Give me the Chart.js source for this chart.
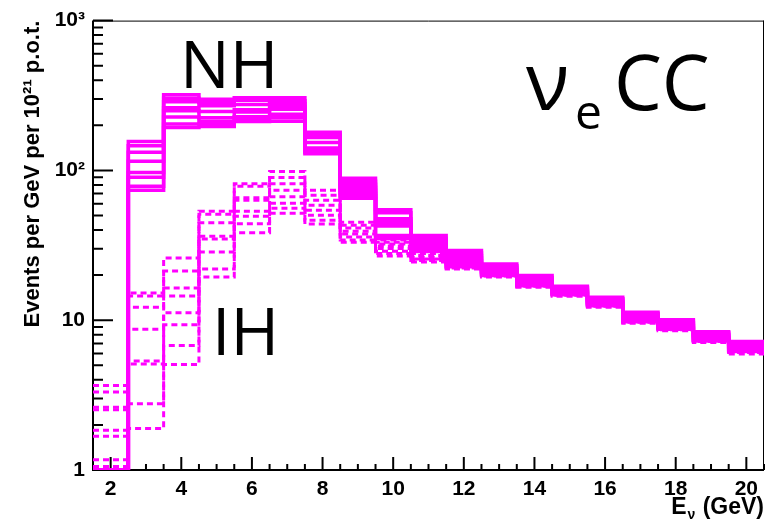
<!DOCTYPE html>
<html>
<head>
<meta charset="utf-8">
<script src="https://cdn.jsdelivr.net/npm/chart.js@4.4.1/dist/chart.umd.min.js"></script>
<style>
  html, body { margin: 0; padding: 0; background: #ffffff; }
  #wrap { position: relative; width: 767px; height: 520px; }
</style>
</head>
<body>
<div id="wrap"><canvas id="c" width="767" height="520"></canvas></div>
<script>
// Reconstructed neutrino energy, 1 GeV bins labelled by bin centre
const energies = [2, 3, 4, 5, 6, 7, 8, 9, 10, 11, 12, 13, 14, 15, 16, 17, 18, 19, 20];
const binWidth = 1;

// nu_e CC spectra, normal hierarchy, one curve per delta_CP value
const nh1 = [1, 156, 320, 299, 306, 306, 180, 88.5, 54.6, 36.7, 29.2, 23.74, 19.91, 16.83, 14.22, 11.30, 10.08, 8.38, 7.20];
const nh2 = [1, 146, 303, 285, 294, 292, 172, 84.5, 52.2, 35.3, 28.1, 23.02, 19.31, 16.44, 13.90, 11.05, 9.85, 8.20, 7.03];
const nh3 = [1, 132, 287, 270, 275, 279, 166, 80.7, 47.6, 34.0, 27.0, 22.33, 18.87, 16.07, 13.58, 10.80, 9.63, 8.01, 6.87];
const nh4 = [1, 115, 262, 247, 254, 266, 153.5, 77.1, 45.8, 32.7, 26.0, 21.82, 18.44, 15.70, 13.27, 10.55, 9.41, 7.83, 6.72];
const nh5 = [1, 97, 250, 225, 245, 256, 141, 73.6, 44.1, 31.5, 25.0, 21.32, 18.03, 15.47, 13.07, 10.31, 9.19, 7.65, 6.57];
const nh6 = [1, 90, 227, 213, 228, 237, 136, 70.3, 42.5, 30.5, 24.1, 20.84, 17.62, 15.23, 12.87, 10.08, 8.99, 7.48, 6.42];
const nh7 = [1, 78.3, 204, 204, 220, 225, 132, 67.7, 36.7, 29.4, 23.4, 20.37, 17.21, 15.00, 12.68, 9.92, 8.85, 7.36, 6.27];
const nh8 = [1, 73.6, 193, 196, 212, 213, 129, 65.2, 35.1, 28.7, 22.7, 19.91, 16.95, 14.77, 12.49, 9.77, 8.71, 7.25, 6.18];

// nu_e CC spectra, inverted hierarchy, same delta_CP values
const ih1 = [3.67, 15.2, 26.0, 53.4, 81.3, 98.5, 73.6, 45.1, 34.3, 29.9, 27.7, 23.20, 19.45, 16.44, 13.90, 11.05, 9.85, 8.20, 7.03];
const ih2 = [3.32, 14.5, 21.3, 51.0, 78.3, 89.8, 68.2, 43.1, 33.2, 28.7, 26.4, 22.50, 18.87, 16.07, 13.58, 10.80, 9.63, 8.01, 6.87];
const ih3 = [2.62, 12.2, 16.4, 44.8, 65.7, 81.3, 63.2, 41.2, 32.2, 27.9, 25.4, 21.82, 18.44, 15.70, 13.27, 10.55, 9.41, 7.83, 6.72];
const ih4 = [2.52, 8.71, 14.5, 36.4, 63.2, 73.6, 58.5, 39.3, 31.3, 27.0, 24.5, 21.16, 18.03, 15.35, 12.97, 10.31, 9.19, 7.65, 6.57];
const ih5 = [1.84, 5.34, 11.2, 34.8, 53.4, 66.7, 54.2, 37.6, 30.1, 26.2, 23.7, 20.68, 17.62, 15.12, 12.77, 10.08, 8.99, 7.48, 6.42];
const ih6 = [1.68, 5.10, 9.34, 28.5, 49.5, 60.4, 50.2, 35.9, 28.9, 25.6, 23.0, 20.21, 17.21, 14.89, 12.58, 9.85, 8.78, 7.31, 6.27];
const ih7 = [1.17, 2.77, 6.77, 22.0, 44.1, 55.9, 46.5, 34.3, 27.9, 25.0, 22.3, 19.76, 16.83, 14.66, 12.39, 9.70, 8.65, 7.20, 6.08];
const ih8 = [1.055, 1.89, 5.06, 19.45, 38.4, 51.8, 43.8, 33.2, 26.8, 24.5, 22.0, 19.45, 16.57, 14.44, 12.20, 9.55, 8.51, 7.09, 5.94];

// Axis ticks and labels
const xTickValues = [2, 4, 6, 8, 10, 12, 14, 16, 18, 20];
const yTickLabels = { 1: '1', 10: '10', 100: '10\u00B2', 1000: '10\u00B3' };
const yTitle = 'Events per GeV per 10\u00B2\u00B9 p.o.t.';

const nhSeries = [nh1, nh2, nh3, nh4, nh5, nh6, nh7, nh8];
const ihSeries = [ih1, ih2, ih3, ih4, ih5, ih6, ih7, ih8];

const MAGENTA = '#ff00ff';

// Histogram outline: one point per lower bin edge, plus the closing upper edge
function toSteps(values) {
  const pts = energies.map((e, i) => ({ x: e - binWidth / 2, y: values[i] }));
  const last = energies.length - 1;
  pts.push({ x: energies[last] + binWidth / 2, y: values[last] });
  return pts;
}

const datasets = [];
ihSeries.forEach((vals, k) => datasets.push({
  label: 'IH ' + (k + 1), data: toSteps(vals), stepped: 'before',
  borderColor: MAGENTA, borderWidth: 3, borderDash: [6, 4], pointRadius: 0, fill: false
}));
nhSeries.forEach((vals, k) => datasets.push({
  label: 'NH ' + (k + 1), data: toSteps(vals), stepped: 'before',
  borderColor: MAGENTA, borderWidth: 3.5, pointRadius: 0, fill: false
}));

const FONT = "'Liberation Sans', Arial, sans-serif";

// Frame and inward tick marks, drawn from the chart's own scales
const framePlugin = {
  id: 'frame',
  beforeDatasetsDraw(chart) {
    const { ctx, chartArea: a, scales: { x, y } } = chart;
    ctx.save();
    ctx.strokeStyle = '#000';
    ctx.lineCap = 'butt';
    // thin top and right frame
    ctx.lineWidth = 1;
    ctx.beginPath();
    ctx.moveTo(a.left, a.top + 0.5); ctx.lineTo(a.right, a.top + 0.5);
    ctx.moveTo(a.right - 0.5, a.top); ctx.lineTo(a.right - 0.5, a.bottom);
    ctx.stroke();
    // axes
    ctx.lineWidth = 2;
    ctx.beginPath();
    ctx.moveTo(a.left, a.top); ctx.lineTo(a.left, a.bottom + 1);
    ctx.moveTo(a.left - 1, a.bottom); ctx.lineTo(a.right, a.bottom);
    // y ticks: decades long, 2..9 short
    for (let d = 1; d <= 1000; d *= 10) {
      for (let m = 1; m <= 9; m++) {
        const v = m * d;
        if (v > y.max) break;
        const py = y.getPixelForValue(v);
        const len = m === 1 ? 20 : 10;
        ctx.moveTo(a.left, py); ctx.lineTo(a.left + len, py);
      }
    }
    // x ticks: every 0.5 GeV, long at the labelled values
    for (let v = x.min; v <= x.max + 1e-9; v += 0.5) {
      const px = x.getPixelForValue(v);
      const len = xTickValues.includes(v) ? 13 : 6;
      ctx.moveTo(px, a.bottom); ctx.lineTo(px, a.bottom - len);
    }
    ctx.stroke();
    ctx.restore();
  },
  afterDraw(chart) {
    const { ctx, chartArea: a } = chart;
    ctx.save();
    ctx.fillStyle = '#000';
    // x axis title with subscript
    ctx.textBaseline = 'alphabetic';
    const mainFont = 'bold 23px ' + FONT;
    const subFont = 'bold 14px ' + FONT;
    const tail = ' (GeV)';
    ctx.font = mainFont;
    const wTail = ctx.measureText(tail).width;
    const wE = ctx.measureText('E').width;
    ctx.font = subFont;
    const wSub = ctx.measureText('\u03BD').width + 2;
    const base = 514;
    ctx.textAlign = 'left';
    const x0 = a.right - wTail - wSub - wE;
    ctx.font = mainFont;
    ctx.fillText('E', x0, base);
    ctx.font = subFont;
    ctx.fillText('\u03BD', x0 + wE + 1, base + 5);
    ctx.font = mainFont;
    ctx.fillText(tail, x0 + wE + wSub, base);

    // plot annotations
    const big = "'Open Sans', 'Noto Sans', sans-serif";
    ctx.font = '66px ' + big;
    ctx.fillText('NH', 180, 88);
    ctx.fillText('IH', 212, 355);
    ctx.font = '80px ' + big;
    ctx.fillText('\u03BD', 526, 110);
    ctx.font = '48px ' + big;
    ctx.fillText('e', 575, 129);
    ctx.font = '76px ' + big;
    ctx.fillText('CC', 614, 110);
    ctx.restore();
  }
};

new Chart(document.getElementById('c'), {
  type: 'line',
  data: { datasets },
  plugins: [framePlugin],
  options: {
    responsive: false,
    animation: false,
    layout: { padding: { left: 0, right: 3, top: 18, bottom: 0 } },
    plugins: { legend: { display: false }, tooltip: { enabled: false } },
    scales: {
      x: {
        type: 'linear', min: 1.5, max: 20.5,
        grid: { display: false, drawTicks: false },
        border: { display: false },
        afterBuildTicks: s => { s.ticks = xTickValues.map(v => ({ value: v })); },
        ticks: { color: '#000', font: { family: FONT, weight: 'bold', size: 21 }, padding: 7, maxRotation: 0, autoSkip: false },
        afterFit: s => { s.height = 50; }
      },
      y: {
        type: 'logarithmic', min: 1, max: 1000,
        grid: { display: false, drawTicks: false },
        border: { display: false },
        afterBuildTicks: s => { s.ticks = Object.keys(yTickLabels).map(v => ({ value: +v })); },
        ticks: { color: '#000', font: { family: FONT, weight: 'bold', size: 21 }, padding: 8,
                 callback: v => yTickLabels[v] ?? '' },
        title: { display: true, text: yTitle, align: 'end', color: '#000',
                 font: { family: FONT, weight: 'bold', size: 22 }, padding: { top: 20, bottom: 0 } },
        afterFit: s => { s.width = 93; }
      }
    }
  }
});
</script>
</body>
</html>
